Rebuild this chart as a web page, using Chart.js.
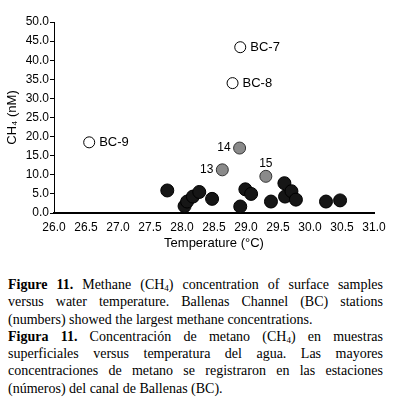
<!DOCTYPE html>
<html>
<head>
<meta charset="utf-8">
<script src="https://cdn.jsdelivr.net/npm/chart.js"></script>
<style>
  body { margin: 0; background: #fff; width: 393px; height: 403px; overflow: hidden; }
  #chart { display: block; }
  .caption {
    margin-top: 21px;
    margin-left: 8px;
    width: 375px;
    font-family: 'Liberation Serif', 'Times New Roman', serif;
    font-size: 14px;
    line-height: 17.3px;
    color: #000;
  }
  .caption div { white-space: nowrap; text-align: justify; text-align-last: justify; }
  .caption div.end { text-align-last: left; }
  .caption sub { font-size: 9px; line-height: 0; vertical-align: -2px; }
</style>
</head>
<body>
<canvas id="chart" width="393" height="255"></canvas>
<div class="caption">
  <div><b>Figure 11.</b> Methane (CH<sub>4</sub>) concentration of surface samples</div>
  <div>versus water temperature. Ballenas Channel (BC) stations</div>
  <div class="end">(numbers) showed the largest methane concentrations.</div>
  <div><b>Figura 11.</b> Concentración de metano (CH<sub>4</sub>) en muestras</div>
  <div>superficiales versus temperatura del agua. Las mayores</div>
  <div>concentraciones de metano se registraron en las estaciones</div>
  <div class="end">(números) del canal de Ballenas (BC).</div>
</div>
<script>
// surface samples (black)
const blackTemp = [27.77, 28.04, 28.08, 28.17, 28.27, 28.47, 28.91, 28.99, 29.08, 29.39, 29.60, 29.61, 29.71, 29.78, 30.25, 30.47];
const blackCh4  = [5.9, 1.8, 3.0, 4.3, 5.5, 3.7, 1.7, 6.2, 5.0, 3.0, 7.8, 4.3, 5.7, 3.5, 3.0, 3.3];

// numbered stations (grey)
const grayTemp   = [28.63, 28.90, 29.31];
const grayCh4    = [11.3, 17.0, 9.6];
const grayLabels = ['13', '14', '15'];

// Ballenas Channel stations (open)
const openTemp   = [28.91, 28.79, 26.55];
const openCh4    = [43.4, 34.0, 18.5];
const openLabels = ['BC-7', 'BC-8', 'BC-9'];

const xTicks = [26, 31, 0.5];
const yTicks = [0, 50, 5];

const sans = "'Liberation Sans', Arial, sans-serif";

const toPoints = (xs, ys) => xs.map((x, i) => ({ x: x, y: ys[i] }));

// draws the station names next to their points
const pointLabels = {
  id: 'pointLabels',
  afterDatasetsDraw(chart) {
    const ctx = chart.ctx;
    ctx.save();
    ctx.fillStyle = '#000';
    ctx.textBaseline = 'middle';
    chart.data.datasets.forEach((ds, i) => {
      if (!ds.labels) return;
      chart.getDatasetMeta(i).data.forEach((pt, j) => {
        const text = ds.labels[j];
        ctx.font = ds.labelFont;
        if (text === '15') {
          ctx.textAlign = 'center';
          ctx.fillText(text, pt.x, pt.y - 13);
        } else if (ds.labelSide === 'left') {
          ctx.textAlign = 'right';
          ctx.fillText(text, pt.x - 9, pt.y);
        } else {
          ctx.textAlign = 'left';
          ctx.fillText(text, pt.x + 10, pt.y);
        }
      });
    });
    ctx.restore();
  }
};

new Chart(document.getElementById('chart'), {
  type: 'scatter',
  data: {
    datasets: [
      {
        data: toPoints(blackTemp, blackCh4),
        backgroundColor: '#161616', borderColor: '#000', borderWidth: 1,
        pointRadius: 6.5
      },
      {
        data: toPoints(grayTemp, grayCh4),
        backgroundColor: '#8a8a8a', borderColor: '#333', borderWidth: 1,
        pointRadius: 6,
        labels: grayLabels, labelSide: 'left', labelFont: '12px ' + sans
      },
      {
        data: toPoints(openTemp, openCh4),
        backgroundColor: '#fff', borderColor: '#000', borderWidth: 1,
        pointRadius: 5.5,
        labels: openLabels, labelSide: 'right', labelFont: '13px ' + sans
      }
    ]
  },
  options: {
    responsive: false,
    animation: false,
    devicePixelRatio: 1,
    layout: { padding: { top: 22, right: 19, left: 0, bottom: 0 } },
    plugins: { legend: { display: false }, tooltip: { enabled: false } },
    scales: {
      x: {
        type: 'linear',
        min: xTicks[0], max: xTicks[1],
        afterFit: (s) => { s.height = 42; },
        grid: { drawOnChartArea: false, drawTicks: false },
        border: { color: '#000', width: 2 },
        ticks: {
          stepSize: xTicks[2], autoSkip: false, maxRotation: 0, padding: 7,
          color: '#000', font: { family: sans, size: 12 },
          callback: (v) => v.toFixed(1)
        },
        title: {
          display: true, text: 'Temperature (°C)', color: '#000',
          font: { family: sans, size: 13 }, padding: { top: 0, bottom: 4 }
        }
      },
      y: {
        min: yTicks[0], max: yTicks[1],
        afterFit: (s) => { s.width = 54; },
        grid: { drawOnChartArea: false, drawTicks: true, tickLength: 4, color: '#000' },
        border: { color: '#000', width: 1 },
        ticks: {
          stepSize: yTicks[2], padding: 1,
          color: '#000', font: { family: sans, size: 12 },
          callback: (v) => v.toFixed(1)
        },
        title: {
          display: true, text: 'CH₄ (nM)', color: '#000',
          font: { family: sans, size: 13 }, padding: { top: 5, bottom: 0 }
        }
      }
    }
  },
  plugins: [pointLabels]
});
</script>
</body>
</html>
